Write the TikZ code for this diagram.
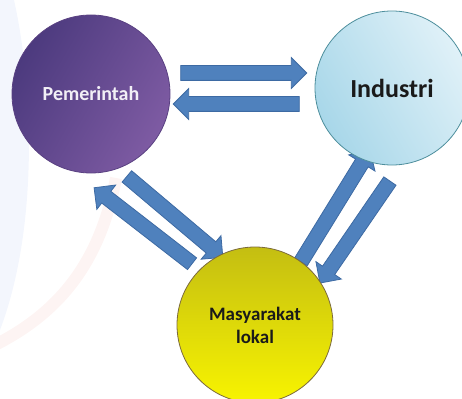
\documentclass[tikz,border=0pt]{standalone}
\usepackage{fontspec}
\setmainfont{Carlito}
\usetikzlibrary{shapes.arrows,calc}
\definecolor{arrowfill}{HTML}{4F81BD}
\definecolor{arrowedge}{HTML}{3D6AA3}
\definecolor{pA}{HTML}{4C3A7E}
\definecolor{pB}{HTML}{7E5BA3}
\definecolor{pEdge}{HTML}{5A4182}
\definecolor{iA}{HTML}{E0F1F8}
\definecolor{iB}{HTML}{A8D7E9}
\definecolor{iEdge}{HTML}{4D8E9C}
\definecolor{mA}{HTML}{C4BE12}
\definecolor{mB}{HTML}{F8F400}
\definecolor{mEdge}{HTML}{7C6A3C}
\definecolor{bgBlue}{HTML}{F3F6FD}
\definecolor{bgPink}{HTML}{FDF4F3}
\definecolor{darktext}{HTML}{1A1A1A}
\definecolor{lighttext}{HTML}{F2EFF6}
\newcommand\blockarrow[2]{%
  \path let \p1=($(#2)-(#1)$), \n1={atan2(\y1,\x1)}, \n2={veclen(\x1,\y1)} in
    node[barrow, minimum height=\n2, rotate=\n1] at ($(#1)!0.5!(#2)$) {};}
\begin{document}
\begin{tikzpicture}[x=1pt,y=-1pt,
  barrow/.style={single arrow, draw=arrowedge, fill=arrowfill, line width=0.8pt,
    inner xsep=0pt, inner ysep=7pt, single arrow head extend=8pt,
    single arrow tip angle=90, outer sep=0pt},
  bubble/.style={circle, inner sep=0pt, line width=0.8pt, font=\bfseries, align=center}]
\useasboundingbox (0,0) rectangle (462,398);
\clip (0,0) rectangle (462,398);
% faint background swooshes
\fill[bgBlue] (0,0) -- (14,0) .. controls (34,90) and (38,230) .. (0,330) -- cycle;
\draw[bgPink, line width=12pt] (116,178) .. controls (100,262) and (60,312) .. (-5,345);
% arrow end points
\coordinate (a1s) at (177,73);  \coordinate (a1e) at (303,73);
\coordinate (a2s) at (303,104); \coordinate (a2e) at (177,104);
\coordinate (a3s) at (124,174); \coordinate (a3e) at (220,255);
\coordinate (a4s) at (195,266); \coordinate (a4e) at (97,190);
\coordinate (a5s) at (299,265); \coordinate (a5e) at (368,153);
\coordinate (a6s) at (392,178); \coordinate (a6e) at (322,280);
\blockarrow{a1s}{a1e}
\blockarrow{a2s}{a2e}
\blockarrow{a3s}{a3e}
\blockarrow{a4s}{a4e}
\blockarrow{a5s}{a5e}
\blockarrow{a6s}{a6e}
% circles
\node[bubble, minimum size=158pt, draw=pEdge, left color=pA, right color=pB, shading angle=60,
  text=lighttext, font=\bfseries\fontsize{20}{24}\selectfont] (pem) at (91,94) {Pemerintah};
\node[bubble, minimum size=154pt, draw=iEdge, left color=iB, right color=iA, shading angle=120,
  text=darktext, font=\bfseries\fontsize{26}{30}\selectfont] (ind) at (392,88) {Industri};
\node[bubble, minimum size=156pt, draw=mEdge, top color=mA, bottom color=mB,
  text=darktext, font=\bfseries\fontsize{19}{23}\selectfont] (mas) at (255,325) {Masyarakat\\lokal};
\end{tikzpicture}
\end{document}
